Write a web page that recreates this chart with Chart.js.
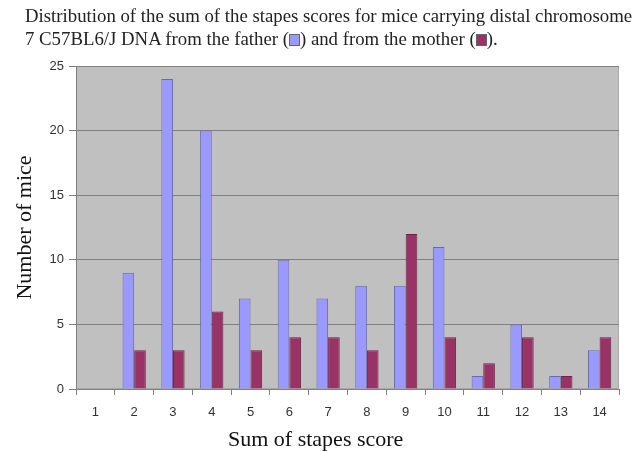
<!DOCTYPE html>
<html>
<head>
<meta charset="utf-8">
<script src="https://cdn.jsdelivr.net/npm/chart.js@4/dist/chart.umd.min.js"></script>
<style>
    html, body { margin: 0; padding: 0; background: #fff; }
    #wrap { position: relative; width: 639px; height: 451px; overflow: hidden; }
    #title {
        position: absolute; left: 25px; top: 4px; white-space: nowrap;
        font-family: 'Liberation Serif', 'Times New Roman', serif;
        font-size: 18.8px; line-height: 23px; color: #222;
    }
    #xtitle {
        position: absolute; left: 228px; top: 427px; white-space: nowrap;
        font-family: 'Liberation Serif', 'Times New Roman', serif;
        font-size: 22px; line-height: 24px; color: #111;
    }
    .sw { display: inline-block; width: 9px; height: 10px; vertical-align: -1px; border: 1px solid #666; }
</style>
</head>
<body>
<div id="wrap">
    <div id="title">Distribution of the sum of the stapes scores for mice carrying distal chromosome<br>
    7 C57BL6/J DNA from the father (<span class="sw" style="background:#9999ff"></span>) and from the mother (<span class="sw" style="background:#993366"></span>).</div>
    <canvas id="c" width="639" height="451"></canvas>
    <div id="xtitle">Sum of stapes score</div>
</div>
<script>
// Sum of stapes score categories
const SCORES = ['1', '2', '3', '4', '5', '6', '7', '8', '9', '10', '11', '12', '13', '14'];

// Number of mice per score
const FATHER = [0, 9, 24, 20, 7, 10, 7, 8, 8, 11, 1, 5, 1, 3];
const MOTHER = [0, 3, 3, 6, 3, 4, 4, 3, 12, 4, 2, 4, 1, 4];

const Y_TICKS = [0, 5, 10, 15, 20, 25];

const COLORS = {
    plot: '#c0c0c0',
    grid: '#808080',
    father: '#9999ff',
    fatherBorder: '#6a6aa8',
    mother: '#993366',
    motherBorder: '#6e2348',
    text: '#333333',
};

// Grey plot area behind the bars
const plotBg = {
    id: 'plotBg',
    beforeDraw(chart) {
        const { ctx, chartArea: a } = chart;
        ctx.save();
        ctx.fillStyle = COLORS.plot;
        ctx.fillRect(a.left, a.top, a.right - a.left, a.bottom - a.top);
        ctx.strokeStyle = '#a8a8a8';
        ctx.lineWidth = 1;
        ctx.strokeRect(a.left + 0.5, a.top + 0.5, a.right - a.left - 1, a.bottom - a.top - 1);
        ctx.restore();
    }
};

const tickFont = { family: "'Liberation Sans', Arial, sans-serif", size: 13 };
const titleFont = { family: "'Liberation Serif', 'Times New Roman', serif", size: 22 };

new Chart(document.getElementById('c'), {
    type: 'bar',
    data: {
        labels: SCORES,
        datasets: [
            {
                label: 'father',
                data: FATHER,
                backgroundColor: COLORS.father,
                borderColor: COLORS.fatherBorder,
                borderWidth: 1,
                categoryPercentage: 0.6,
                barPercentage: 1,
            },
            {
                label: 'mother',
                data: MOTHER,
                backgroundColor: COLORS.mother,
                borderColor: COLORS.motherBorder,
                borderWidth: 1,
                categoryPercentage: 0.6,
                barPercentage: 1,
            },
        ]
    },
    options: {
        responsive: false,
        animation: false,
        layout: { padding: { left: 0, top: 66, right: 20, bottom: 0 } },
        plugins: {
            legend: { display: false },
            tooltip: { enabled: false },
        },
        scales: {
            x: {
                grid: {
                    display: true,
                    drawOnChartArea: false,
                    offset: true,
                    color: COLORS.grid,
                    tickLength: 6,
                },
                border: { color: COLORS.grid },
                ticks: { color: COLORS.text, font: tickFont, padding: 10, maxRotation: 0 },
                afterFit(scale) { scale.height = 62; },
            },
            y: {
                min: 0,
                max: 25,
                afterBuildTicks(scale) { scale.ticks = Y_TICKS.map(v => ({ value: v })); },
                grid: { color: COLORS.grid, tickLength: 7 },
                border: { color: COLORS.grid },
                ticks: { color: COLORS.text, font: tickFont, padding: 5 },
                title: {
                    display: true,
                    text: 'Number of mice',
                    color: '#111',
                    font: titleFont,
                    padding: { top: 12, bottom: 0 },
                },
                afterFit(scale) { scale.width = 76; },
            },
        }
    },
    plugins: [plotBg],
});
</script>
</body>
</html>
